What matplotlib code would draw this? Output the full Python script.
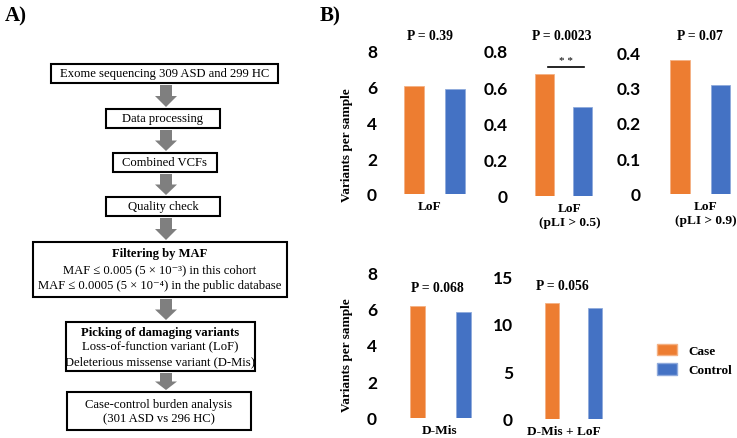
import matplotlib
matplotlib.use("Agg")
import matplotlib.pyplot as plt
from matplotlib.patches import Rectangle, Polygon, Patch
from matplotlib.ticker import FuncFormatter

# bar chart data (B)
categories = ['LoF', 'LoF\n(pLI > 0.5)', 'LoF\n(pLI > 0.9)', 'D-Mis', 'D-Mis + LoF']
case_values = [6.04, 0.673, 0.377, 6.14, 12.17]
control_values = [5.87, 0.49, 0.307, 5.81, 11.64]
p_labels = ['P = 0.39', 'P = 0.0023', 'P = 0.07', 'P = 0.068', 'P = 0.056']
y_max = [8, 0.8, 0.4, 8, 15]
y_step = [2, 0.2, 0.1, 2, 5]
groups = ['Case', 'Control']

# flowchart text (A)
steps = [
    ('', ['Exome sequencing 309 ASD and 299 HC']),
    ('', ['Data processing']),
    ('', ['Combined VCFs']),
    ('', ['Quality check']),
    ('Filtering by MAF', ['MAF \u2264 0.005 (5 \u00d7 10\u207b\u00b3) in this cohort',
                          'MAF \u2264 0.0005 (5 \u00d7 10\u207b\u2074) in the public database']),
    ('Picking of damaging variants', ['Loss-of-function variant (LoF)',
                                      'Deleterious missense variant (D-Mis)']),
    ('', ['Case-control burden analysis', '(301 ASD vs 296 HC)']),
]

ORANGE = '#ED7D31'
BLUE = '#4472C4'
W, H = 737, 439
SERIF = ['Liberation Serif', 'DejaVu Serif']
SANS = 'Lato'

fig = plt.figure(figsize=(W / 100, H / 100), dpi=100)


def px_ax(left, top, right, bottom):
    return fig.add_axes([left / W, 1 - bottom / H, (right - left) / W, (bottom - top) / H])


# ---- panel A: flowchart ----
fa = fig.add_axes([0, 0, 1, 1])
fa.set_xlim(0, W)
fa.set_ylim(H, 0)
fa.axis('off')

# box extents in pixels: left, top, right, bottom
boxes = [(51, 65, 278, 84), (106, 110, 220, 129), (113, 154, 217, 173), (106, 198, 220, 217),
         (33, 243, 287, 298), (66, 323, 255, 372), (67, 393, 251, 431)]
line_h = [14, 14, 14, 14, 16, 14.5, 14]
for (title, lines), (l, t, r, b), lh in zip(steps, boxes, line_h):
    fa.add_patch(Rectangle((l, t), r - l, b - t, fill=False, ec='black', lw=1.5))
    cx = (l + r) / 2
    rows = ([(title, 'bold')] if title else []) + [(s, 'normal') for s in lines]
    n = len(rows)
    y0 = (t + b) / 2 - (n - 1) * lh / 2
    for i, (s, w) in enumerate(rows):
        fa.text(cx, y0 + i * lh, s, ha='center', va='center', fontsize=9.1,
                family=SERIF, weight=w)

# grey arrows between boxes
for (l1, t1, r1, b1), (l2, t2, r2, b2) in zip(boxes[:-1], boxes[1:]):
    cx = 166
    y1, y2 = b1 + 2, t2 - 2
    hl = (y2 - y1) * 0.5
    sw, hw = 6, 11
    pts = [(cx - sw, y1), (cx + sw, y1), (cx + sw, y2 - hl), (cx + hw, y2 - hl),
           (cx, y2), (cx - hw, y2 - hl), (cx - sw, y2 - hl)]
    fa.add_patch(Polygon(pts, closed=True, color='#7f7f7f', lw=0))

fig.text(5 / W, 1 - 16 / H, 'A)', fontsize=15, weight='bold', family=SERIF, va='center')
fig.text(320 / W, 1 - 16 / H, 'B)', fontsize=15, weight='bold', family=SERIF, va='center')

# ---- panel B: bar charts ----
rects = [(384, 52, 485, 195), (515, 52, 612, 197), (648, 53, 737, 195),
         (384, 273, 497, 419), (520, 277, 627, 420)]
xlims = [(-0.73, 1.73), (-0.78, 1.78), (-0.79, 1.41), (-0.74, 1.74), (-0.76, 1.76)]
widths = [0.49, 0.5, 0.49, 0.33, 0.32]
label_x = [0.39, 0.67, 0.64, 0.48, 0.27]
p_pos = [(430, 37), (562, 37), (700, 37), (437, 288), (562, 287)]

for i in range(5):
    ax = px_ax(*rects[i])
    ax.bar([0, 1], [case_values[i], control_values[i]], width=widths[i],
           color=[ORANGE, BLUE], edgecolor=['#f4b183', '#8faadc'], lw=0.6)
    ax.set_xlim(*xlims[i])
    ax.set_ylim(0, y_max[i])
    n = int(round(y_max[i] / y_step[i]))
    ax.set_yticks([k * y_step[i] for k in range(n + 1)])
    ax.yaxis.set_major_formatter(FuncFormatter(lambda v, p: '{:g}'.format(round(v, 3))))
    ax.set_xticks([label_x[i]], [categories[i]])
    ax.tick_params(length=0)
    ax.tick_params(axis='y', pad=5, labelsize=12.5)
    ax.tick_params(axis='x', pad=4)
    for lab in ax.get_yticklabels():
        lab.set_family(SANS)
        lab.set_weight('bold')
    for lab in ax.get_xticklabels():
        lab.set_family(SERIF)
        lab.set_weight('bold')
        lab.set_fontsize(9.6)
        lab.set_linespacing(1.3)
    for s in ax.spines.values():
        s.set_visible(False)
    ax.patch.set_visible(False)
    fig.text(p_pos[i][0] / W, 1 - p_pos[i][1] / H, p_labels[i], ha='center', va='center',
             fontsize=9.8, weight='bold', family=SERIF)
    if i == 1:
        top = max(case_values[i], control_values[i]) + 0.04
        ax.plot([0.09, 1.04], [top, top], color='black', lw=1.2)
        ax.text(0.57, top + 0.008, '* *', ha='center', va='bottom', fontsize=8,
                family=SERIF)

fig.text(347 / W, 1 - 145 / H, 'Variants per sample', rotation=90, ha='center', va='center',
         fontsize=9.5, weight='bold', family=SERIF)
fig.text(347 / W, 1 - 355 / H, 'Variants per sample', rotation=90, ha='center', va='center',
         fontsize=9.5, weight='bold', family=SERIF)

handles = [Patch(facecolor=ORANGE, edgecolor='#f4b183'), Patch(facecolor=BLUE, edgecolor='#8faadc')]
fig.legend(handles, groups, loc='upper left', bbox_to_anchor=(657 / W, 1 - 345 / H),
           frameon=False, prop={'family': SERIF, 'weight': 'bold', 'size': 9.5},
           handlelength=1.55, handleheight=0.95, handletextpad=0.85, labelspacing=0.45,
           borderpad=0, borderaxespad=0)

fig.savefig('out.png', dpi=100)
